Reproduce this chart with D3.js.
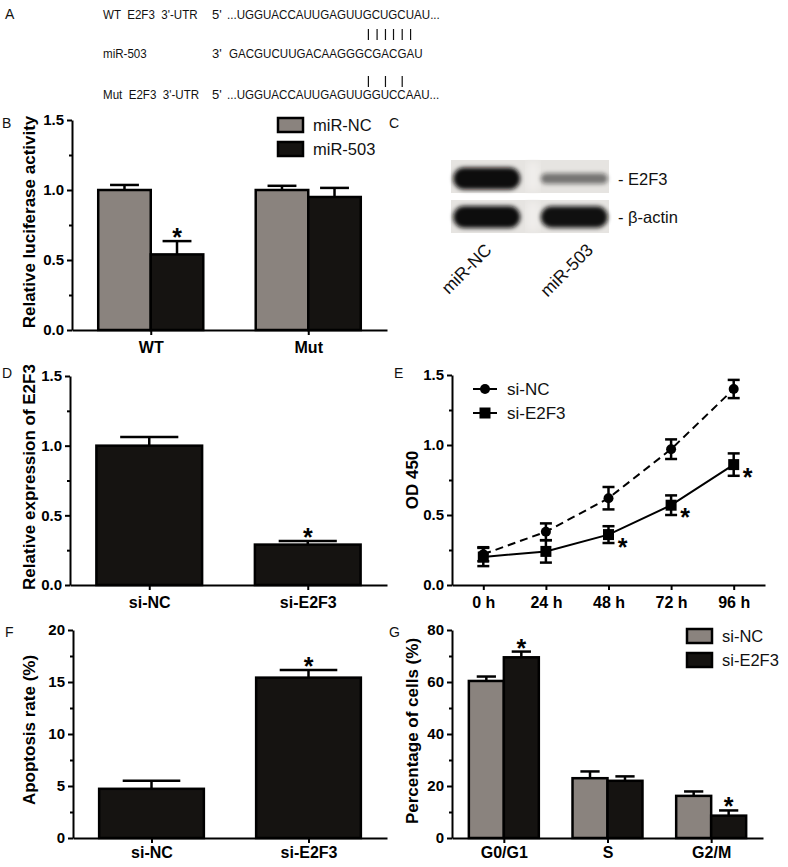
<!DOCTYPE html>
<html><head><meta charset="utf-8">
<script src="https://cdn.jsdelivr.net/npm/d3@7"></script>
<style>body{margin:0;background:#fff} svg{display:block}</style>
</head><body>
<script>
// ---------------- DATA ----------------
const seqNames = ["WT  E2F3  3'-UTR", "miR-503", "Mut  E2F3  3'-UTR"];
const seqEnds = ["5'", "3'", "5'"];
const seqTexts = ["...UGGUACCAUUGAGUUGCUGCUAU...", "GACGUCUUGACAAGGGCGACGAU", "...UGGUACCAUUGAGUUGGUCCAAU..."];
const pairsWT = [16, 17, 18, 19, 20, 21];   // miR-503 base indices paired with WT
const pairsMut = [16, 18, 20];              // miR-503 base indices paired with Mut

const lucGroups = ["WT", "Mut"];
const lucSeriesNames = ["miR-NC", "miR-503"];
const lucNC = [1.00, 1.00];
const lucNCErr = [0.036, 0.03];
const lucMiR = [0.54, 0.95];
const lucMiRErr = [0.095, 0.065];
const lucTicks = [0, 0.5, 1.0, 1.5];

const blotLanes = ["miR-NC", "miR-503"];
const blotProteins = ["E2F3", "β-actin"];
const blotE2F3 = [1.0, 0.30];
const blotActin = [1.0, 0.97];

const exprGroups = ["si-NC", "si-E2F3"];
const exprValues = [1.00, 0.29];
const exprErr = [0.062, 0.026];

const odTimes = ["0 h", "24 h", "48 h", "72 h", "96 h"];
const odSeriesNames = ["si-NC", "si-E2F3"];
const odNC = [0.22, 0.38, 0.62, 0.97, 1.40];
const odNCErr = [0.05, 0.06, 0.08, 0.07, 0.065];
const odSi = [0.20, 0.24, 0.36, 0.57, 0.86];
const odSiErr = [0.065, 0.08, 0.06, 0.07, 0.08];
const odStars = ["48 h", "72 h", "96 h"];

const apopGroups = ["si-NC", "si-E2F3"];
const apopValues = [4.73, 15.42];
const apopErr = [0.77, 0.74];
const apopTicks = [0, 5, 10, 15, 20];

const cycleGroups = ["G0/G1", "S", "G2/M"];
const cycleSeriesNames = ["si-NC", "si-E2F3"];
const cycleNC = [60.4, 23.0, 16.2];
const cycleNCErr = [1.7, 2.6, 1.7];
const cycleSi = [69.5, 22.0, 8.6];
const cycleSiErr = [2.2, 1.7, 2.0];
const cycleTicks = [0, 20, 40, 60, 80];

// ---------------- DRAWING ----------------
const FONT = "'Liberation Sans', Arial, Helvetica, sans-serif";
const GREY = "#8a837e", BLACK = "#151311";

const svg = d3.select("body").append("svg")
  .attr("width", 788).attr("height", 867)
  .style("font-family", FONT);

function panelLabel(t, x, y) {
  svg.append("text").attr("x", x).attr("y", y).text(t)
    .style("font-size", "14px").attr("fill", "#111");
}

function styleAxis(g, fs) {
  g.attr("font-family", FONT).attr("font-size", fs);
  g.selectAll("path,line").attr("stroke", "#000").attr("stroke-width", 2);
  g.selectAll("text").attr("fill", "#000").style("font-weight", "bold");
}

function yAxes(g, y, x0, ticks, minor, fmt) {
  const a = g.append("g").attr("transform", `translate(${x0},0)`)
    .call(d3.axisLeft(y).tickValues(ticks).tickFormat(fmt).tickSize(5).tickPadding(3).tickSizeOuter(0));
  styleAxis(a, 15);
  const m = g.append("g").attr("transform", `translate(${x0},0)`)
    .call(d3.axisLeft(y).tickValues(minor).tickFormat("").tickSize(3).tickSizeOuter(0));
  m.select(".domain").remove();
  styleAxis(m, 15);
}

function xAxis(g, x, yb, pad) {
  const a = g.append("g").attr("transform", `translate(0,${yb})`)
    .call(d3.axisBottom(x).tickSize(5).tickPadding(pad).tickSizeOuter(0));
  styleAxis(a, 16);
}

function yTitle(g, text, bx, cy) {
  g.append("text").attr("transform", `translate(${bx},${cy}) rotate(-90)`)
    .attr("text-anchor", "middle").text(text)
    .style("font-size", "17px").style("font-weight", "bold").attr("fill", "#000");
}

function star(g, x, y) {
  g.append("text").attr("x", x).attr("y", y).attr("text-anchor", "middle")
    .text("*").style("font-size", "25px").style("font-weight", "bold").attr("fill", "#000");
}

function barPanel(p) {
  const g = svg.append("g");
  const y = d3.scaleLinear().domain([0, p.max]).range([p.yBot, p.yTop]);
  const x = d3.scalePoint().domain(p.groups).range([p.x0, p.x1]).padding(0.5);
  const n = p.series.length;
  const bw = x.step() * p.fill / n;
  p.series.forEach((s, si) => {
    const left = gname => x(gname) - bw * n / 2 + si * bw;
    const cx = gname => left(gname) + bw / 2;
    const cap = bw * 0.275;
    const eg = g.append("g");
    eg.selectAll("line.v").data(p.groups).join("line")
      .attr("x1", d => cx(d)).attr("x2", d => cx(d))
      .attr("y1", (d, i) => y(s.values[i])).attr("y2", (d, i) => y(s.values[i] + s.errs[i]))
      .attr("stroke", "#000").attr("stroke-width", 2.5);
    eg.selectAll("line.c").data(p.groups).join("line")
      .attr("x1", d => cx(d) - cap).attr("x2", d => cx(d) + cap)
      .attr("y1", (d, i) => y(s.values[i] + s.errs[i])).attr("y2", (d, i) => y(s.values[i] + s.errs[i]))
      .attr("stroke", "#000").attr("stroke-width", 2.5);
    g.selectAll(null).data(p.groups).join("rect")
      .attr("x", d => left(d)).attr("width", bw)
      .attr("y", (d, i) => y(s.values[i])).attr("height", (d, i) => y(0) - y(s.values[i]))
      .attr("fill", s.color).attr("stroke", "#000").attr("stroke-width", 2.5);
    (s.stars || []).forEach(gname => {
      const i = p.groups.indexOf(gname);
      star(g, cx(gname), y(s.values[i] + s.errs[i]) + 5);
    });
  });
  yAxes(g, y, p.x0, p.ticks, p.minor, p.fmt);
  xAxis(g, x, p.yBot, p.xpad);
  yTitle(g, p.title, p.titleX, p.titleY);
  if (p.legend) {
    const lg = g.append("g");
    p.series.forEach((s, si) => {
      const ly = p.legend.y + si * p.legend.dy;
      lg.append("rect").attr("x", p.legend.x).attr("y", ly).attr("width", 25).attr("height", 14)
        .attr("fill", s.color).attr("stroke", "#000").attr("stroke-width", 2.5);
      lg.append("text").attr("x", p.legend.x + 35).attr("y", ly + 13).text(s.name)
        .style("font-size", "16.5px").attr("fill", "#111");
    });
  }
  return g;
}

// ---- Panel A ----
(function () {
  const g = svg.append("g").style("font-size", "13px").attr("fill", "#111");
  const rows = [19, 58, 99];
  const F = 0.89;
  // condense text horizontally to the narrow face of the original; returns natural-width info
  const condense = sel => {
    const node = sel.node();
    const L = node.getComputedTextLength();
    const n = node.getNumberOfChars();
    const adv = [];
    for (let k = 0; k < n; k++) adv.push(node.getSubStringLength(k, 1));
    sel.attr("textLength", L * F).attr("lengthAdjust", "spacingAndGlyphs");
    return { sel, adv };
  };
  seqNames.forEach((t, i) => condense(g.append("text").attr("x", 103).attr("y", rows[i])
    .style("white-space", "pre").attr("xml:space", "preserve").text(t)));
  seqEnds.forEach((e, i) => g.append("text").attr("x", 212).attr("y", rows[i]).text(e));
  const seqX = [227, 229, 227];
  const seqs = seqTexts.map((s, i) => condense(g.append("text").attr("x", seqX[i]).attr("y", rows[i]).text(s)));
  const adv = seqs[1].adv;
  const charCenter = k => seqX[1] + (d3.sum(adv.slice(0, k)) + adv[k] / 2) * F;
  g.selectAll("line.p1").data(pairsWT).join("line")
    .attr("x1", charCenter).attr("x2", charCenter).attr("y1", 29).attr("y2", 40)
    .attr("stroke", "#111").attr("stroke-width", 1.2);
  g.selectAll("line.p2").data(pairsMut).join("line")
    .attr("x1", charCenter).attr("x2", charCenter).attr("y1", 76).attr("y2", 87)
    .attr("stroke", "#111").attr("stroke-width", 1.2);
})();

// ---- Panel B ----
barPanel({
  x0: 72, x1: 387, yTop: 120, yBot: 330, max: 1.5, groups: lucGroups, fill: 0.667,
  series: [
    { name: lucSeriesNames[0], values: lucNC, errs: lucNCErr, color: GREY },
    { name: lucSeriesNames[1], values: lucMiR, errs: lucMiRErr, color: BLACK, stars: ["WT"] }
  ],
  ticks: lucTicks, minor: [0.25, 0.75, 1.25], fmt: d3.format(".1f"), xpad: 7,
  title: "Relative luciferase activity", titleX: 35, titleY: 222,
  legend: { x: 278, y: 118, dy: 24 }
});

// ---- Panel C (western blot) ----
(function () {
  const g = svg.append("g");
  const defs = svg.append("defs");
  defs.append("filter").attr("id", "blur").attr("x", "-20%").attr("y", "-50%").attr("width", "140%").attr("height", "200%")
    .append("feGaussianBlur").attr("stdDeviation", 2.2);
  defs.append("filter").attr("id", "blur2").append("feGaussianBlur").attr("stdDeviation", 4);
  const lane = d3.scalePoint().domain(blotLanes).range([443, 618]).padding(0.5);
  const labelDx = [6, 20];
  const strips = [{ y: 160, h: 33, vals: blotE2F3, prot: blotProteins[0] },
                  { y: 200, h: 33, vals: blotActin, prot: blotProteins[1] }];
  strips.forEach((s, si) => {
    g.append("rect").attr("x", 451).attr("y", s.y).attr("width", 158).attr("height", s.h).attr("fill", "#e6e4e1");
    g.append("rect").attr("x", 527).attr("y", s.y + 2).attr("width", 12).attr("height", s.h - 4)
      .attr("fill", "#f1efed").attr("filter", "url(#blur2)");
    const cy = s.y + s.h / 2 + (si === 0 ? 2 : 0.5);
    blotLanes.forEach((l, li) => {
      const v = s.vals[li];
      const h = 8 + 14 * Math.pow(v, 1.4);
      const w = 67;
      g.append("rect").attr("x", lane(l) - w / 2).attr("y", cy - h / 2).attr("width", w).attr("height", h)
        .attr("rx", h / 2).attr("fill", "#0e0c0b").attr("opacity", Math.pow(v, 0.55))
        .attr("filter", "url(#blur)");
    });
    g.append("text").attr("x", 618).attr("y", cy + 6).text("- " + s.prot)
      .style("font-size", "16.5px").attr("fill", "#111");
  });
  blotLanes.forEach((l, li) => {
    g.append("text").attr("transform", `translate(${lane(l) + labelDx[li]},251) rotate(-45)`)
      .attr("text-anchor", "end").text(l).style("font-size", "17.5px").attr("fill", "#111");
  });
})();

// ---- Panel D ----
barPanel({
  x0: 70, x1: 387, yTop: 376, yBot: 585, max: 1.5, groups: exprGroups, fill: 0.667,
  series: [{ name: "expr", values: exprValues, errs: exprErr, color: BLACK, stars: ["si-E2F3"] }],
  ticks: lucTicks, minor: [0.25, 0.75, 1.25], fmt: d3.format(".1f"), xpad: 7,
  title: "Relative expression of E2F3", titleX: 35, titleY: 477
});

// ---- Panel E ----
(function () {
  const g = svg.append("g");
  const y = d3.scaleLinear().domain([0, 1.5]).range([585, 375]);
  const x = d3.scalePoint().domain(odTimes).range([452, 765]).padding(0.5);
  const series = [
    { name: odSeriesNames[0], vals: odNC, errs: odNCErr, dash: "8,5", marker: "circle" },
    { name: odSeriesNames[1], vals: odSi, errs: odSiErr, dash: null, marker: "square" }
  ];
  const line = d3.line().x((d, i) => x(odTimes[i])).y(d => y(d));
  series.forEach(s => {
    g.append("path").attr("d", line(s.vals)).attr("fill", "none").attr("stroke", "#000")
      .attr("stroke-width", 2).attr("stroke-dasharray", s.dash);
  });
  series.forEach(s => {
    const eg = g.append("g").attr("stroke", "#000").attr("stroke-width", 2.5);
    odTimes.forEach((t, i) => {
      const cx = x(t), lo = y(s.vals[i] - s.errs[i]), hi = y(s.vals[i] + s.errs[i]);
      eg.append("line").attr("x1", cx).attr("x2", cx).attr("y1", lo).attr("y2", hi);
      eg.append("line").attr("x1", cx - 6).attr("x2", cx + 6).attr("y1", lo).attr("y2", lo);
      eg.append("line").attr("x1", cx - 6).attr("x2", cx + 6).attr("y1", hi).attr("y2", hi);
    });
    odTimes.forEach((t, i) => {
      if (s.marker === "circle") g.append("circle").attr("cx", x(t)).attr("cy", y(s.vals[i])).attr("r", 5).attr("fill", "#000");
      else g.append("rect").attr("x", x(t) - 5.5).attr("y", y(s.vals[i]) - 5.5).attr("width", 11).attr("height", 11).attr("fill", "#000");
    });
  });
  odStars.forEach(t => {
    const i = odTimes.indexOf(t);
    star(g, x(t) + 14, y(odSi[i]) + 21);
  });
  yAxes(g, y, 452, lucTicks, [0.25, 0.75, 1.25], d3.format(".1f"));
  xAxis(g, x, 585, 7);
  yTitle(g, "OD 450", 418, 480);
  series.forEach((s, si) => {
    const ly = 389 + si * 24;
    g.append("line").attr("x1", 473).attr("x2", 497).attr("y1", ly).attr("y2", ly)
      .attr("stroke", "#000").attr("stroke-width", 2).attr("stroke-dasharray", s.dash ? "10,4" : null);
    if (s.marker === "circle") g.append("circle").attr("cx", 485).attr("cy", ly).attr("r", 5).attr("fill", "#000");
    else g.append("rect").attr("x", 479.5).attr("y", ly - 5.5).attr("width", 11).attr("height", 11).attr("fill", "#000");
    g.append("text").attr("x", 507).attr("y", ly + 6).text(s.name).style("font-size", "17px").attr("fill", "#111");
  });
})();

// ---- Panel F ----
barPanel({
  x0: 73, x1: 387, yTop: 630, yBot: 838, max: 20, groups: apopGroups, fill: 0.667,
  series: [{ name: "apop", values: apopValues, errs: apopErr, color: BLACK, stars: ["si-E2F3"] }],
  ticks: apopTicks, minor: [2.5, 7.5, 12.5, 17.5], fmt: d3.format("d"), xpad: 4,
  title: "Apoptosis rate (%)", titleX: 35, titleY: 730
});

// ---- Panel G ----
barPanel({
  x0: 452, x1: 763, yTop: 630, yBot: 838, max: 80, groups: cycleGroups, fill: 0.675,
  series: [
    { name: cycleSeriesNames[0], values: cycleNC, errs: cycleNCErr, color: GREY },
    { name: cycleSeriesNames[1], values: cycleSi, errs: cycleSiErr, color: BLACK, stars: ["G0/G1", "G2/M"] }
  ],
  ticks: cycleTicks, minor: [10, 30, 50, 70], fmt: d3.format("d"), xpad: 4,
  title: "Percentage of cells (%)", titleX: 418, titleY: 731,
  legend: { x: 687, y: 629, dy: 24 }
});

panelLabel("A", 5, 19);
panelLabel("B", 2, 128);
panelLabel("C", 389, 128);
panelLabel("D", 2, 378);
panelLabel("E", 394, 378);
panelLabel("F", 5, 637);
panelLabel("G", 389, 637);
</script>
</body></html>
